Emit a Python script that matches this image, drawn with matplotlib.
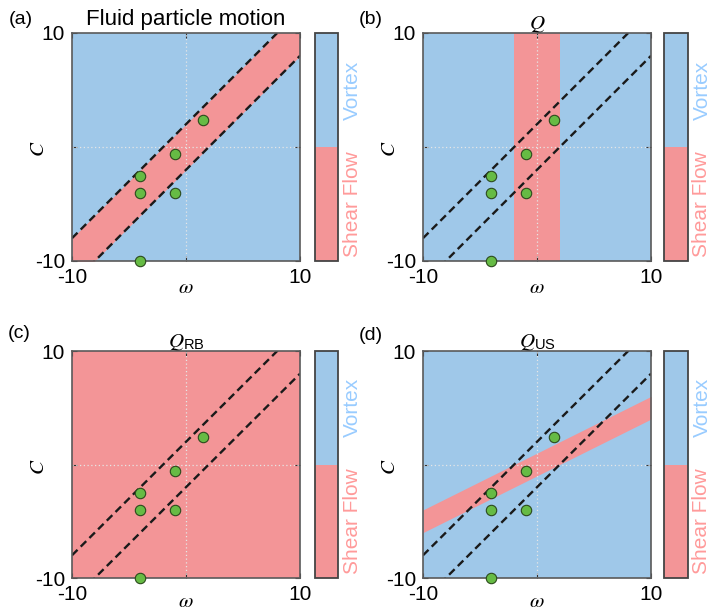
import numpy as np
import matplotlib
matplotlib.use('Agg')
import matplotlib.pyplot as plt
from matplotlib.colors import ListedColormap, BoundaryNorm
from matplotlib.cm import ScalarMappable

plt.rcParams['font.family'] = ['Liberation Sans', 'DejaVu Sans']
plt.rcParams['mathtext.fontset'] = 'stix'

# ---------------- data ----------------
omega_lim = [-10, 10]
C_lim = [-10, 10]
tick_vals = [-10, 0, 10]
tick_labels = ['-10', '', '10']

omega_pts = [-4, -4, -1, -1, 1.5, -4]
C_pts = [-2.5, -4, -0.6, -4, 2.4, -10]

dash_slope = 1.0
dash_offsets = [2.0, -2.0]

panel_letters = ['(a)', '(b)', '(c)', '(d)']
panel_titles = ['Fluid particle motion', r'$Q$', r'$Q_{\mathregular{RB}}$', r'$Q_{\mathregular{US}}$']

# shear-flow regions (rest is vortex)
band_kind = ['diag', 'vert', 'all', 'diag']
band_slope = [1.0, 0.0, 0.0, 0.5]
band_lo = [-2.0, -2.0, 0.0, -1.0]
band_hi = [2.0, 2.0, 0.0, 1.0]

class_labels = ['Shear Flow', 'Vortex']

# ---------------- style ----------------
RED = '#F39597'
BLUE = '#9FC8E9'
RED_TXT = '#FF9A9A'
BLUE_TXT = '#99CCFF'
SPINE = '#5a5a5a'

W, H = 712, 611
fig = plt.figure(figsize=(W / 100, H / 100), dpi=100)

# pixel layout: (left, top, width, height)
ax_px = [(72, 33, 228, 228), (423, 33, 228, 228), (72, 351, 228, 227), (423, 351, 228, 227)]
cb_px = [(315, 33, 23, 228), (664, 33, 24, 228), (315, 351, 23, 227), (664, 351, 24, 227)]
letter_px = [(9, 19), (359, 19), (8, 333), (359, 336)]


def rect(l, t, w, h):
    return [l / W, 1 - (t + h) / H, w / W, h / H]


cmap = ListedColormap([RED, BLUE])
norm = BoundaryNorm([0, 1, 2], 2)

for i in range(4):
    ax = fig.add_axes(rect(*ax_px[i]))
    ax.set_xlim(omega_lim)
    ax.set_ylim(C_lim)
    kind = band_kind[i]
    w = np.array(omega_lim, dtype=float)
    if kind == 'all':
        ax.set_facecolor(RED)
    else:
        ax.set_facecolor(BLUE)
        if kind == 'diag':
            ax.fill_between(w, band_slope[i] * w + band_lo[i], band_slope[i] * w + band_hi[i],
                            color=RED, lw=0, zorder=1)
        elif kind == 'vert':
            ax.axvspan(band_lo[i], band_hi[i], color=RED, lw=0, zorder=1)

    # grid at zero
    ax.axhline(0, color='#e6e6e6', ls=(0, (1, 2)), lw=0.9, zorder=2)
    ax.axvline(0, color='#e6e6e6', ls=(0, (1, 2)), lw=0.9, zorder=2)

    # dashed lines
    for off in dash_offsets:
        ax.plot(w, dash_slope * w + off, color='#1a1a1a', lw=1.7, ls=(0, (3.3, 1.9)), zorder=3)

    # points
    ax.plot(omega_pts, C_pts, 'o', ms=7.5, mfc='#66BB44', mec='#2b4a1c', mew=0.8,
            zorder=5, clip_on=False)

    ax.set_xticks(tick_vals)
    ax.set_xticklabels(tick_labels)
    ax.set_yticks(tick_vals)
    ax.set_yticklabels(tick_labels)
    ax.tick_params(direction='in', length=3.5, width=0.8, color='#333333', labelsize=15,
                   top=True, right=True, pad=5)
    for s in ax.spines.values():
        s.set_color(SPINE)
        s.set_linewidth(1.2)
        s.set_zorder(4)

    ax.set_xlabel(r'$\omega$', fontsize=15)
    ax.xaxis.set_label_coords(0.5, -0.115 if i < 2 else -0.102)
    ax.xaxis.label.set_va('center')
    ax.set_ylabel(r'$C$', fontsize=15)
    ax.yaxis.set_label_coords(-0.149, 0.49)
    ax.yaxis.label.set_va('center')

    if i == 0:
        ax.set_title(panel_titles[i], fontsize=16, pad=6)
    else:
        ax.set_title(panel_titles[i], fontsize=15, pad=3)

    lx, ly = letter_px[i]
    fig.text(lx / W, 1 - ly / H, panel_letters[i], fontsize=14, ha='left', va='center')

    # colorbar
    cax = fig.add_axes(rect(*cb_px[i]))
    cb = fig.colorbar(ScalarMappable(norm=norm, cmap=cmap), cax=cax, ticks=[])
    cb.ax.minorticks_off()
    cb.outline.set_edgecolor('#444444')
    cb.outline.set_linewidth(1.3)
    xoff = 1 + 14 / cb_px[i][2]
    cax.text(xoff, 0.25, class_labels[0], transform=cax.transAxes, rotation=90,
             ha='center', va='center', fontsize=15, color=RED_TXT)
    cax.text(xoff, 0.75, class_labels[1], transform=cax.transAxes, rotation=90,
             ha='center', va='center', fontsize=15, color=BLUE_TXT)

fig.savefig('out.png', dpi=100)
